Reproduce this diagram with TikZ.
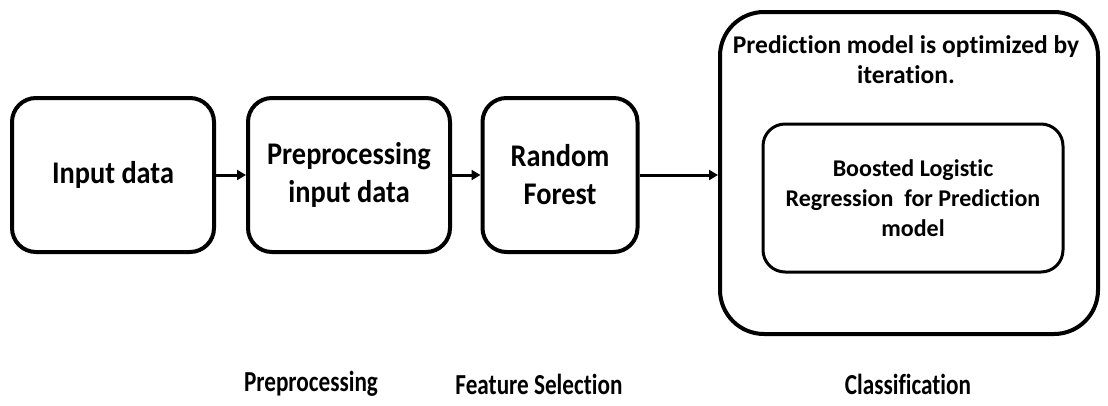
\documentclass[tikz,border=0pt]{standalone}
\usepackage{fontspec}
\setmainfont{Carlito}[Ligatures=NoCommon]
\newfontfamily\narrowcarlito{Carlito}[Ligatures=NoCommon, FakeStretch=0.8]
\newfontfamily\boxcarlito{Carlito}[Ligatures=NoCommon, FakeStretch=0.9]
\usetikzlibrary{arrows.meta}
\tikzset{
  stage/.style={draw, line width=4pt, rounded corners=24pt, align=center,
    font=\boxcarlito\bfseries\fontsize{31.5}{38}\selectfont, inner sep=0pt},
  link/.style={line width=3pt, -{Triangle[length=9pt,width=10pt]}},
  caption/.style={font=\narrowcarlito\bfseries\fontsize{29}{32}\selectfont},
  note/.style={font=\bfseries\fontsize{24}{30}\selectfont, align=center}
}
\begin{document}
\begin{tikzpicture}[x=1pt,y=-1pt]
\useasboundingbox (0,0) rectangle (1108,405);
% pipeline stages
\node[stage, minimum width=202pt, minimum height=154pt] (input) at (113,175) {Input data};
\node[stage, minimum width=202pt, minimum height=154pt] (prep) at (349,175) {Preprocessing\\input data};
\node[stage, minimum width=155pt, minimum height=154pt] (rf) at (560,175) {Random\\Forest};
% classification stage
\node[draw, line width=4pt, rounded corners=44pt, minimum width=378pt, minimum height=322pt] (cls) at (909,173) {};
\node[note, font=\bfseries\fontsize{25.5}{30}\selectfont] (opt) at (906,60) {Prediction model is optimized by\\iteration.};
\node[draw, line width=3pt, rounded corners=22pt, minimum width=300pt, minimum height=148pt,
  note, inner sep=0pt] (blr) at (913,198) {Boosted Logistic\\Regression\ \ for Prediction\\model};
% connectors
\draw[link] (input.east) -- (prep.west);
\draw[link] (prep.east) -- (rf.west);
\draw[link] (rf.east) -- (cls.west |- rf.east);
% stage captions
\node[caption] (c1) at (311,384) {Preprocessing};
\node[caption] (c2) at (539,384) {Feature Selection};
\node[caption] (c3) at (908,384) {Classification};
\end{tikzpicture}
\end{document}
